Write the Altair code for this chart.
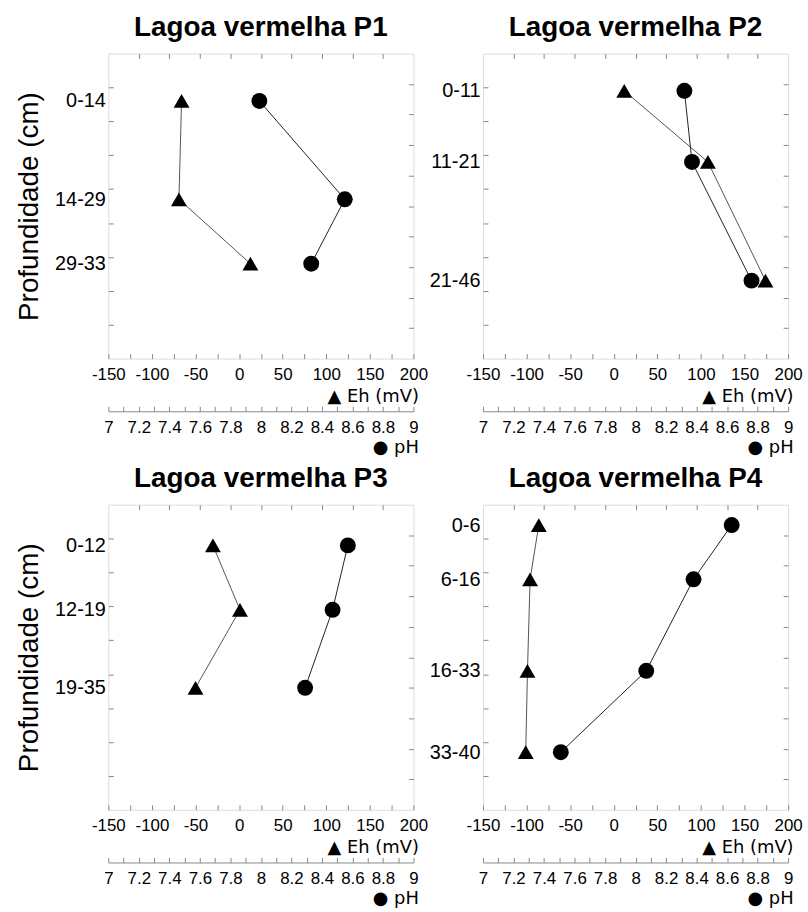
import altair as alt
import pandas as pd

FONT = "Liberation Sans"
SYMFONT = "DejaVu Sans"

titles = ["Lagoa vermelha P1", "Lagoa vermelha P2", "Lagoa vermelha P3", "Lagoa vermelha P4"]

# depth intervals (cm)
p1_top = [0, 14, 29]
p1_bottom = [14, 29, 33]
p2_top = [0, 11, 21]
p2_bottom = [11, 21, 46]
p3_top = [0, 12, 19]
p3_bottom = [12, 19, 35]
p4_top = [0, 6, 16, 33]
p4_bottom = [6, 16, 33, 40]

# Eh (mV)
p1_eh = [-66, -69, 13]
p2_eh = [12, 108, 174]
p3_eh = [-30, 1, -50]
p4_eh = [-86, -96, -99, -101]

# pH
p1_ph = [7.99, 8.55, 8.33]
p2_ph = [8.32, 8.37, 8.76]
p3_ph = [8.57, 8.47, 8.29]
p4_ph = [8.63, 8.38, 8.07, 7.51]

eh_ticks = list(range(-150, 201, 25))
ph_ticks = [round(7 + 0.1 * i, 1) for i in range(21)]
ph_top_ticks = [round(7 + 0.2 * i, 1) for i in range(1, 10)]
depth_ticks = list(range(5, 45, 5))
right_ticks = [4.5 * i for i in range(1, 10)]

W = 307
H = 307
INK = "#222"


def label_expr(depths, labels):
    expr = "''"
    for d, l in zip(reversed(depths), reversed(labels)):
        expr = f"abs(datum.value - {d}) < 0.01 ? '{l}' : ({expr})"
    return expr


def panel(title, tops, bottoms, eh, ph, show_ytitle):
    df = pd.DataFrame({"top": tops, "bottom": bottoms, "eh": eh, "ph": ph})
    df["depth"] = (df["top"] + df["bottom"]) / 2
    labels = [f"{a}-{b}" for a, b in zip(tops, bottoms)]
    depths = list(df["depth"])

    def ydepth():
        return alt.Scale(domain=[0, 45], reverse=True, nice=False, zero=False)

    def xeh():
        return alt.Scale(domain=[-150, 200], nice=False, zero=False)

    def xph():
        return alt.Scale(domain=[7, 9], nice=False, zero=False)

    base = alt.Chart(df)

    eh_layer = base.mark_line(
        color="#555", strokeWidth=1,
        point=alt.OverlayMarkDef(shape="triangle-up", filled=True, size=256,
                                 color="black", opacity=1),
    ).encode(
        x=alt.X("eh:Q", scale=xeh(), axis=alt.Axis(
            orient="bottom", values=eh_ticks,
            labelExpr="datum.value % 50 == 0 ? '' + datum.value : ''",
            offset=-5, tickSize=5, domain=False, grid=False,
            labelPadding=8, labelFontSize=17, labelFlush=False, labelOverlap=False,
            title="▲ Eh (mV)", titleFont=SYMFONT, titleFontSize=18,
            titleFontWeight="normal",
            titleX=W + 5, titleY=48, titleAlign="right", titleAnchor="end",
            titleBaseline="alphabetic")),
        y=alt.Y("depth:Q", scale=ydepth(), axis=alt.Axis(
            orient="left", values=depth_ticks, labels=False,
            offset=-5, tickSize=5, domain=False, grid=False,
            title=("Profundidade (cm)" if show_ytitle else None),
            titleFontSize=28, titleFontWeight="normal",
            titleX=-76, titleY=H / 2, titleAngle=270,
            titleAlign="center", titleBaseline="alphabetic")),
        order=alt.Order("depth:Q"),
    )

    ph_layer = base.mark_line(
        color=INK, strokeWidth=1,
        point=alt.OverlayMarkDef(shape="circle", filled=True, size=256,
                                 color="black", opacity=1),
    ).encode(
        x=alt.X("ph:Q", scale=xph(), axis=alt.Axis(
            orient="bottom", values=ph_ticks,
            labelExpr="round(datum.value*10) % 2 == 0 ? '' + round(datum.value*10)/10 : ''",
            offset=48, tickSize=5, domain=False, grid=False,
            labelPadding=8, labelFontSize=17, labelFlush=False, labelOverlap=False,
            title="● pH", titleFont=SYMFONT, titleFontSize=18,
            titleFontWeight="normal",
            titleX=W + 5, titleY=46, titleAlign="right", titleAnchor="end",
            titleBaseline="alphabetic")),
        y=alt.Y("depth:Q", scale=ydepth(), axis=None),
        order=alt.Order("depth:Q"),
    )

    frame = base.mark_point(opacity=0).encode(
        x=alt.X("ph:Q", scale=xph(), axis=alt.Axis(
            orient="top", values=ph_top_ticks, labels=False, tickSize=5,
            offset=-5, domain=False, grid=False, title=None)),
        y=alt.Y("depth:Q", scale=ydepth(), axis=alt.Axis(
            orient="right", values=right_ticks, labels=False, tickSize=5,
            offset=-5, domain=False, grid=False, title=None)),
    )

    lab = base.mark_point(opacity=0).encode(
        x=alt.X("ph:Q", scale=xph(), axis=alt.Axis(
            orient="bottom", offset=53, domain=True, ticks=False, tickSize=0,
            labels=False, grid=False, title=None)),
        y=alt.Y("depth:Q", scale=ydepth(), axis=alt.Axis(
            orient="left", values=depths, labelExpr=label_expr(depths, labels),
            ticks=False, tickSize=0, domain=False, grid=False,
            labelPadding=3, labelFontSize=20, labelAlign="right",
            labelBaseline="middle", labelOverlap=False, labelFlush=False,
            title=None)),
    )

    return alt.layer(eh_layer, ph_layer, frame, lab).resolve_scale(
        x="independent", y="independent"
    ).properties(
        width=W, height=H,
        title=alt.Title(title, font=FONT, fontSize=28, fontWeight="bold",
                        color="black", anchor="middle", frame="group",
                        offset=-11, baseline="alphabetic"),
    )


p1 = panel(titles[0], p1_top, p1_bottom, p1_eh, p1_ph, True)
p2 = panel(titles[1], p2_top, p2_bottom, p2_eh, p2_ph, False)
p3 = panel(titles[2], p3_top, p3_bottom, p3_eh, p3_ph, True)
p4 = panel(titles[3], p4_top, p4_bottom, p4_eh, p4_ph, False)

chart = alt.concat(
    p1, p2, p3, p4, columns=2,
    spacing={"row": 147, "column": 70}, bounds="flush",
).properties(
    padding={"left": 15, "top": 11, "right": 5, "bottom": 2},
).configure_axis(
    labelFont=FONT, titleFont=FONT, labelColor="black", titleColor="black",
    tickColor=INK, domainColor=INK, tickWidth=1, domainWidth=1,
    minExtent=0,
).configure_view(
    stroke=INK, strokeWidth=1,
).configure(background="white")

chart.save("out.html", embed_options={"renderer": "svg", "actions": False})
